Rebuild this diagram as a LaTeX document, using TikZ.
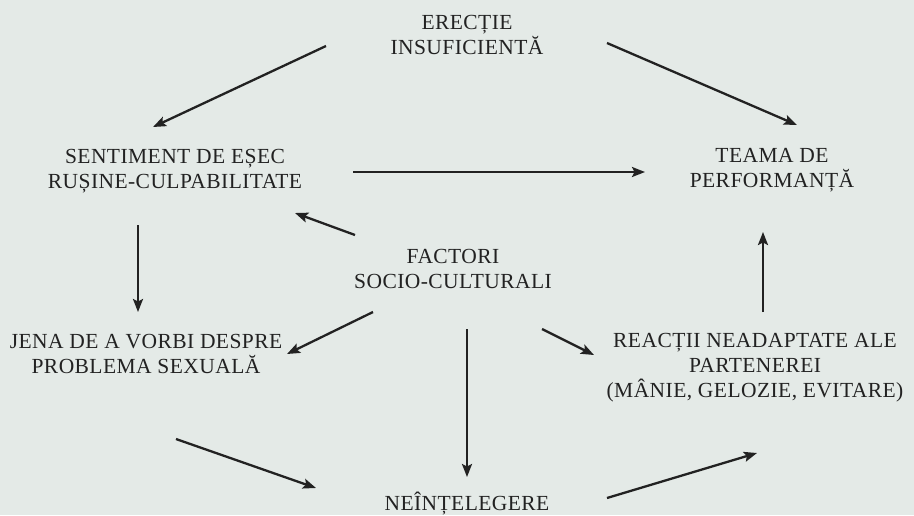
\documentclass[tikz,border=0pt]{standalone}
\usepackage{fontspec}
\newfontfamily\lblfont{Liberation Serif}[LetterSpace=2]
\usetikzlibrary{arrows.meta,calc}
\definecolor{bgc}{RGB}{228,234,231}
\definecolor{ink}{RGB}{34,34,34}
\begin{document}
\begin{tikzpicture}[x=1pt,y=-1pt,
  lbl/.style={anchor=base,align=center,text=ink,inner sep=0pt,
    font=\lblfont\fontsize{21.5}{24.8}\selectfont},
  arr/.style={draw=ink,line width=2.3pt,-{Stealth[length=13pt,width=10pt,inset=2.5pt]}}]
\fill[bgc] (0,0) rectangle (914,515);
\useasboundingbox (0,0) rectangle (914,515);
% anchor=base is the baseline of the last line
\node[lbl] (ere) at (467,54) {ERECȚIE\\INSUFICIENTĂ};
\node[lbl] (sent) at (175,188) {SENTIMENT DE EȘEC\\RUȘINE-CULPABILITATE};
\node[lbl] (teama) at (772,187) {TEAMA DE\\PERFORMANȚĂ};
\node[lbl] (fact) at (453,288) {FACTORI\\SOCIO-CULTURALI};
\node[lbl] (jena) at (146,373) {JENA DE A VORBI DESPRE\\PROBLEMA SEXUALĂ};
\node[lbl] (reac) at (755,397) {REACȚII NEADAPTATE ALE\\PARTENEREI\\(MÂNIE, GELOZIE, EVITARE)};
\node[lbl] (nein) at (467,510) {NEÎNȚELEGERE};
% connectors
\draw[arr] ($(ere.base)+(-141,-8)$) -- ($(sent.base)+(-22,-61)$);
\draw[arr] ($(ere.base)+(140,-11)$) -- ($(teama.base)+(25,-62)$);
\draw[arr] ($(sent.base)+(178,-16)$) -- ($(teama.base)+(-127,-15)$);
\draw[arr] ($(fact.base)+(-98,-53)$) -- ($(sent.base)+(120,25)$);
\draw[arr] ($(sent.base)+(-37,37)$) -- ($(jena.base)+(-8,-61)$);
\draw[arr] ($(fact.base)+(-80,24)$) -- ($(jena.base)+(141,-19)$);
\draw[arr] ($(fact.base)+(14,41)$) -- ($(nein.base)+(0,-33)$);
\draw[arr] ($(fact.base)+(89,41)$) -- ($(reac.base)+(-161,-42)$);
\draw[arr] ($(reac.base)+(8,-85)$) -- ($(teama.base)+(-9,45)$);
\draw[arr] ($(jena.base)+(30,66)$) -- ($(nein.base)+(-151,-22)$);
\draw[arr] ($(nein.base)+(140,-12)$) -- ($(reac.base)+(2,56)$);
\end{tikzpicture}
\end{document}
